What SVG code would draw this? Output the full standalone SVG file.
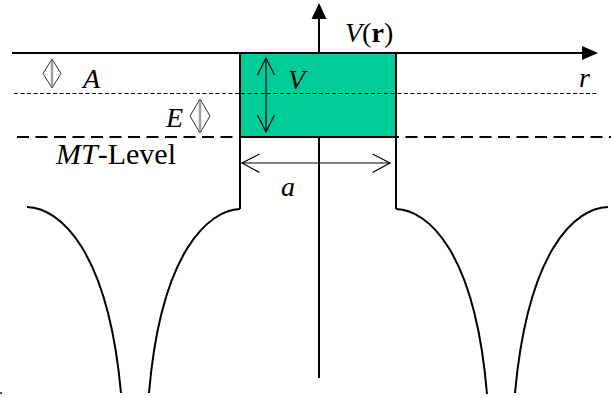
<svg xmlns="http://www.w3.org/2000/svg" width="611" height="398" viewBox="0 0 611 398">
<style>
.i{font-style:italic}
.b{font-weight:bold;font-style:normal}
.axis{stroke:#000;stroke-width:2;fill:none}
.thin{stroke:#000;stroke-width:1.2;fill:none}
.curve{stroke:#000;stroke-width:2;fill:none}
.dot{stroke:#000;stroke-width:1;stroke-dasharray:4,2.5}
.dia{stroke:#333;stroke-width:1;fill:none}
.dial{stroke:#888;stroke-width:1;fill:none}
</style>
<rect width="611" height="398" fill="#fff"/>
<g id="connectors">
  <line class="axis" x1="319" y1="378" x2="319" y2="18"/>
  <polygon points="319,3 311.5,19 326.5,19" fill="#000"/>
  <line class="axis" x1="12" y1="53" x2="582" y2="53"/>
  <polygon points="598,53 582,46 582,60" fill="#000"/>
  <line class="dot" x1="14" y1="93.5" x2="598" y2="93.5"/>
  <line stroke="#000" stroke-width="2" stroke-dasharray="12,6.5" x1="17" y1="137" x2="611" y2="137"/>
  <line class="axis" x1="240" y1="137" x2="240" y2="209"/>
  <line class="axis" x1="396" y1="137" x2="396" y2="209"/>
  <path class="curve" d="M27,207 C60,208 108,250 121,393"/>
  <path class="curve" d="M240,209 C209,210 161,251 149,393"/>
  <path class="curve" d="M396,209 C428,210 475,251 487,394"/>
  <path class="curve" d="M608,207 C575,208 528,250 515,393"/>
</g>
<g font-family="Liberation Serif, Times New Roman, serif" font-size="28" fill="#000">
<g id="well">
  <rect x="240" y="53" width="156" height="84" fill="#00CC99" stroke="#000" stroke-width="2"/>
  <line class="dot" x1="241" y1="93.5" x2="395" y2="93.5"/>
  <line class="thin" x1="266" y1="58" x2="266" y2="132"/>
  <polyline class="thin" points="257.5,75 266,58 274.5,75"/>
  <polyline class="thin" points="257.5,115 266,132 274.5,115"/>
  <text class="i" x="288" y="89">V</text>
</g>
<g id="width-a">
  <line class="thin" x1="242" y1="163" x2="390" y2="163"/>
  <polyline class="thin" points="259.5,154 242,163 259.5,172.5"/>
  <polyline class="thin" points="372.5,154 390,163 372.5,172.5"/>
  <text class="i" x="281" y="196">a</text>
</g>
<g id="label-A">
  <polygon class="dia" points="52,59 61,73.5 52,88 43,73.5"/>
  <line class="dial" x1="51.3" y1="61" x2="51.3" y2="86"/>
  <line class="dial" x1="52.7" y1="61" x2="52.7" y2="86"/>
  <text class="i" x="83" y="88">A</text>
</g>
<g id="label-E">
  <polygon class="dia" points="200,99 210,116 200,133 190,116"/>
  <line class="dial" x1="199.3" y1="101" x2="199.3" y2="131"/>
  <line class="dial" x1="200.7" y1="101" x2="200.7" y2="131"/>
  <text class="i" x="166" y="127">E</text>
</g>
<g id="label-MT">
  <text x="56" y="164" font-size="30"><tspan class="i">MT</tspan>-Level</text>
</g>
<g id="label-Vr">
  <text x="345" y="42"><tspan class="i">V</tspan>(<tspan class="b">r</tspan>)</text>
</g>
<g id="label-r">
  <text class="i" x="579" y="87">r</text>
</g>
<g id="dot">
  <text x="-1" y="394" font-size="16">.</text>
</g>
</g>
</svg>
